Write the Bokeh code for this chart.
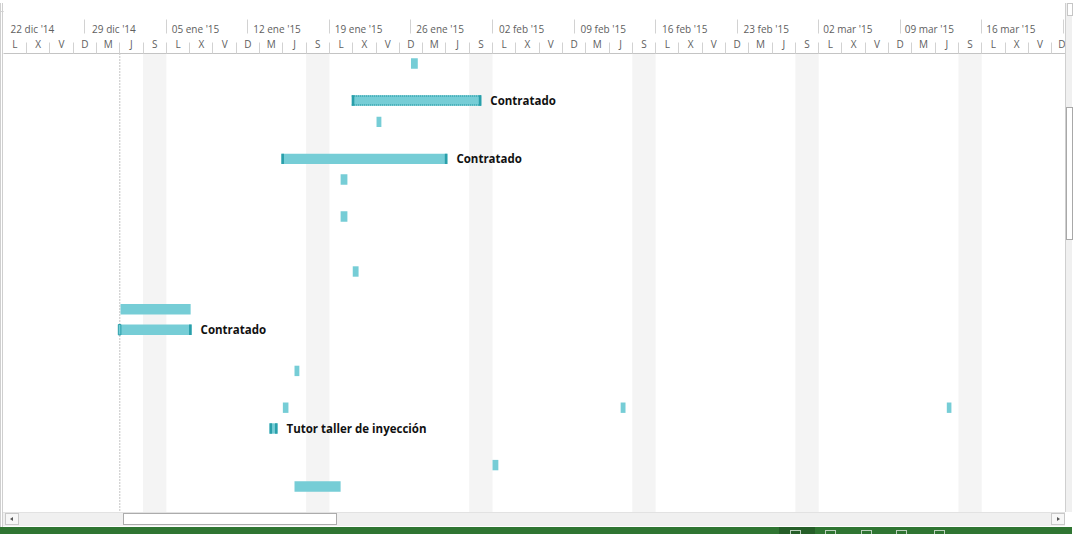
import pandas as pd
from bokeh.plotting import figure
from bokeh.models import (Range1d, LinearAxis, FixedTicker, Span, BoxAnnotation,
                          ColumnDataSource, Div, Row, Column)
from bokeh.core.properties import value
from bokeh.embed import file_html
from bokeh.resources import INLINE

# ---------------- data ----------------
ORIGIN = "2014-12-22"          # first Monday shown on the timescale
N_DAYS = 92

week_labels = ["22 dic '14", "29 dic '14", "05 ene '15", "12 ene '15", "19 ene '15",
               "26 ene '15", "02 feb '15", "09 feb '15", "16 feb '15", "23 feb '15",
               "02 mar '15", "09 mar '15", "16 mar '15", "23 mar '15"]
day_letters = ["L", "M", "X", "J", "V", "S", "D"]   # lunes .. domingo

status_date = "2015-01-01"

task_row = [0.5, 2.35, 3.42, 5.27, 6.3, 8.15, 10.9, 12.79, 13.81, 15.87,
            17.71, 17.71, 17.71, 18.75, 20.58, 21.65]
task_start = ["2015-01-26 00:00", "2015-01-20 22:00", "2015-01-23 01:00", "2015-01-14 21:00",
              "2015-01-19 23:00", "2015-01-19 23:00", "2015-01-21 00:00", "2015-01-01 01:30",
              "2014-12-31 21:00", "2015-01-16 00:00", "2015-01-15 00:00", "2015-02-13 00:00",
              "2015-03-13 00:00", "2015-01-13 20:30", "2015-02-02 00:00", "2015-01-16 00:00"]
task_finish = ["2015-01-26 14:00", "2015-02-01 01:00", "2015-01-23 11:00", "2015-01-29 03:00",
               "2015-01-20 13:00", "2015-01-20 13:00", "2015-01-21 12:00", "2015-01-07 02:00",
               "2015-01-07 04:00", "2015-01-16 10:00", "2015-01-15 11:30", "2015-02-13 10:00",
               "2015-03-13 09:30", "2015-01-14 13:00", "2015-02-02 12:00", "2015-01-19 23:00"]
task_label = ["", "Contratado", "", "Contratado", "", "", "", "", "Contratado", "",
              "", "", "", "Tutor taller de inyección", "", ""]

# ---------------- styling ----------------
BAR = "#76CDD6"
DARK = "#2A9FAA"
HDR = "#606060"
GRID = "#d2d2d2"
FONT = "Open Sans"
bar_kind = {1: "dotted", 3: "caps", 8: "open", 13: "stub"}
BAR_H = 0.52
CAP = 0.22

origin = pd.Timestamp(ORIGIN)
def to_day(s):
    return (pd.Timestamp(s) - origin) / pd.Timedelta(days=1)

start_d = [to_day(s) for s in task_start]
finish_d = [to_day(s) for s in task_finish]

X0, X1 = 0.017, 91.19
Y_BOTTOM = 22.95

p = figure(width=1062, height=509, x_range=Range1d(X0, X1), y_range=Range1d(Y_BOTTOM, 0),
           x_axis_location=None, y_axis_location=None, toolbar_location=None,
           output_backend="svg", min_border_left=0, min_border_right=0,
           min_border_bottom=0, min_border_top=50, outline_line_color=None,
           background_fill_color="white", border_fill_color="white")
p.grid.visible = False

# non-working 2-day cells (Sat+Sun)
for c in range(0, N_DAYS, 2):
    if c % 7 == 5:
        p.add_layout(BoxAnnotation(left=c, right=c + 2, fill_color="#f4f4f4", fill_alpha=1,
                                   line_color=None, level="underlay"))

p.add_layout(Span(location=to_day(status_date), dimension="height", line_color="#8a8a8a",
                  line_dash="1 2", line_width=1, level="underlay"))

src = ColumnDataSource(dict(y=task_row, left=start_d, right=finish_d))
p.hbar(y="y", left="left", right="right", height=BAR_H, source=src,
       fill_color=BAR, line_color=None)

# end marks / decorations
for i, kind in bar_kind.items():
    y, a, b = task_row[i], start_d[i], finish_d[i]
    if kind in ("dotted", "caps", "stub"):
        p.hbar(y=[y], left=[a], right=[a + CAP], height=BAR_H, fill_color=DARK, line_color=None)
        p.hbar(y=[y], left=[b - CAP], right=[b], height=BAR_H, fill_color=DARK, line_color=None)
    if kind == "dotted":
        p.segment(x0=[a, a], y0=[y - BAR_H / 2 + 0.04, y + BAR_H / 2 - 0.04],
                  x1=[b, b], y1=[y - BAR_H / 2 + 0.04, y + BAR_H / 2 - 0.04],
                  line_color=DARK, line_width=1.5, line_dash="1 1")
    if kind == "open":
        p.hbar(y=[y], left=[a], right=[a + CAP], height=BAR_H, fill_color=None,
               line_color=DARK, line_width=1)
        p.hbar(y=[y], left=[b - CAP], right=[b], height=BAR_H, fill_color=DARK, line_color=None)

lab_idx = [i for i, t in enumerate(task_label) if t]
p.text(x=[finish_d[i] for i in lab_idx], y=[task_row[i] for i in lab_idx],
       text=[task_label[i] for i in lab_idx], x_offset=9, text_baseline="middle",
       text_font=value(FONT), text_font_style="bold", text_font_size="11.5px",
       text_color="#111111")

# ---------------- timescale (two tiers) ----------------
cells = list(range(0, N_DAYS, 2))
low = LinearAxis(ticker=FixedTicker(ticks=[c + 1 for c in cells], minor_ticks=cells),
                 major_label_overrides={c + 1: day_letters[c % 7] for c in cells})
low.major_tick_out = 0
low.major_tick_in = 0
low.minor_tick_out = 11
low.minor_tick_in = 0
low.minor_tick_line_color = GRID
low.axis_line_color = "#c4c4c4"
low.major_label_standoff = -8
low.major_label_text_font = FONT
low.major_label_text_font_size = "10px"
low.major_label_text_color = HDR
p.add_layout(low, "above")

weeks = list(range(len(week_labels)))
lab_pos = [w * 7 + 2.5 for w in weeks]
top = LinearAxis(ticker=FixedTicker(ticks=lab_pos, minor_ticks=[w * 7 for w in weeks[1:]]),
                 major_label_overrides={lab_pos[w]: week_labels[w] for w in weeks})
top.major_tick_out = 0
top.major_tick_in = 0
top.minor_tick_out = 14
top.minor_tick_in = 0
top.minor_tick_line_color = GRID
top.axis_line_color = None
top.major_label_standoff = -16
top.major_label_text_font = FONT
top.major_label_text_font_size = "10px"
top.major_label_text_color = HDR
p.add_layout(top, "above")

# ---------------- window chrome ----------------
top_div = Div(width=1072, height=3, margin=0,
              text='<div style="width:1072px;height:3px;border-bottom:1px solid #d4d4d4;'
                   'box-sizing:border-box"></div>')
left_div = Div(width=3, height=509, margin=0,
               text='<div style="width:3px;height:509px;border-left:1px solid #cfcfcf;'
                    'border-right:1px solid #cfcfcf;box-sizing:border-box"></div>')
right_div = Div(width=7, height=509, margin=0,
                text='<div style="position:relative;width:7px;height:509px;background:#f0f0f0;'
                     'border-left:1px solid #cfcfcf;box-sizing:border-box">'
                     '<div style="position:absolute;left:1px;top:0;width:6px;height:13px;'
                     'background:#fff;border:1px solid #c6c6c6;box-sizing:border-box"></div>'
                     '<div style="position:absolute;left:0;top:104px;width:7px;height:133px;'
                     'background:#fff;border:1px solid #a8a8a8;box-sizing:border-box"></div>'
                     '</div>')

icons = "".join(
    '<div style="position:absolute;left:%dpx;top:18px;width:11px;height:4px;'
    'border:1px solid #b9cfba;border-bottom:none;box-sizing:border-box"></div>' % x
    for x in (790, 825, 861, 896, 934))
bottom_div = Div(width=1072, height=22, margin=0,
                 text='<div style="position:relative;width:1072px;height:22px;overflow:hidden">'
                      '<div style="position:absolute;left:0;top:0;width:3px;height:15px;'
                      'border-left:1px solid #cfcfcf;border-right:1px solid #cfcfcf;box-sizing:border-box"></div>'
                      '<div style="position:absolute;left:3px;top:0;width:1062px;height:14px;'
                      'background:#f0f0f0;border-top:1px solid #e2e2e2;box-sizing:border-box"></div>'
                      '<div style="position:absolute;left:5px;top:1px;width:14px;height:12px;'
                      'background:#f7f7f7;border:1px solid #c9c9c9;box-sizing:border-box"></div>'
                      '<div style="position:absolute;left:10px;top:5px;width:0;height:0;'
                      'border-top:2px solid transparent;border-bottom:2px solid transparent;'
                      'border-right:3px solid #555"></div>'
                      '<div style="position:absolute;left:123px;top:1px;width:214px;height:12px;'
                      'background:#fff;border:1px solid #acacac;box-sizing:border-box"></div>'
                      '<div style="position:absolute;left:1051px;top:1px;width:14px;height:12px;'
                      'background:#f7f7f7;border:1px solid #c9c9c9;box-sizing:border-box"></div>'
                      '<div style="position:absolute;left:1057px;top:5px;width:0;height:0;'
                      'border-top:2px solid transparent;border-bottom:2px solid transparent;'
                      'border-left:3px solid #555"></div>'
                      '<div style="position:absolute;left:0;top:15px;width:1072px;height:7px;'
                      'background:#2f7532"></div>'
                      '<div style="position:absolute;left:779px;top:15px;width:36px;height:7px;'
                      'background:#255e28"></div>'
                      + icons +
                      '</div>')

layout = Column(children=[top_div, Row(children=[left_div, p, right_div], spacing=0), bottom_div],
                spacing=0)

with open("out.html", "w") as f:
    f.write(file_html(layout, INLINE))
